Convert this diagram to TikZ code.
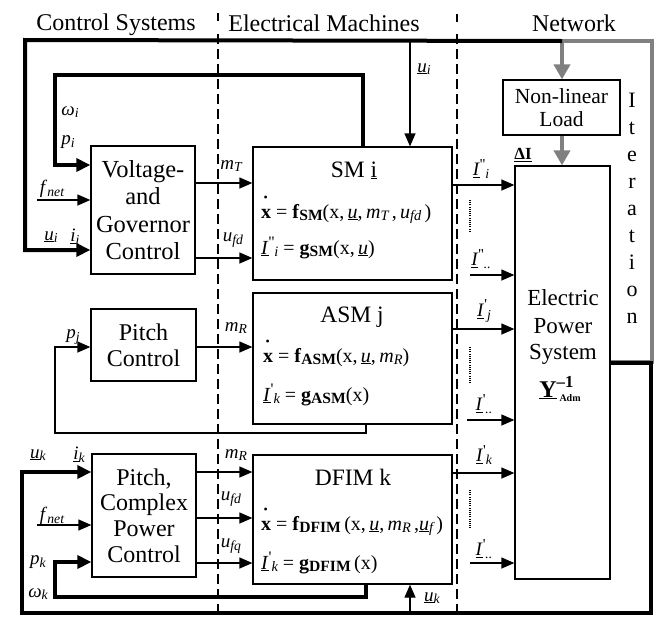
\documentclass[tikz,border=0pt]{standalone}
\usepackage{fontspec}
\setmainfont{Liberation Serif}
\usepackage{graphicx}
\usetikzlibrary{arrows.meta}
\newcommand\dotx{\rlap{\raisebox{0.85em}{\kern0.12em\scalebox{0.6}{\textbullet}}}\textbf{x}}
\newcommand\sbit[1]{\raisebox{-0.3ex}{\scalebox{0.72}{\itshape #1}}}
\newcommand\sbbf[1]{\raisebox{-0.3ex}{\scalebox{0.78}{\bfseries #1}}}
\newcommand\spr[1]{\raisebox{0.75ex}{\scalebox{0.8}{#1}}}
\begin{document}
\begin{tikzpicture}[x=1pt,y=-1pt,
 blk/.style={draw, line width=1.3pt, inner sep=0pt, align=center},
 arr/.style={line width=1.3pt, -{Triangle[length=13pt,width=11pt]}},
 thkarr/.style={line width=4pt, -{Triangle[length=14pt,width=13pt]}},
 gry/.style={line width=4.5pt, draw=black!50, -{Triangle[length=15pt,width=16pt,fill=black!50]}},
 lab/.style={font=\fontsize{19}{22}\selectfont, inner sep=0pt},
 eq/.style={font=\fontsize{20}{24}\selectfont, inner sep=0pt, anchor=base west},
 ttl/.style={font=\fontsize{23.5}{26}\selectfont, inner sep=0pt, anchor=base},
 hdr/.style={font=\fontsize{24}{26}\selectfont, inner sep=0pt, anchor=base},
 sep/.style={line width=2pt, dash pattern=on 10pt off 5pt},
 dotl/.style={line width=1.4pt, dash pattern=on 1pt off 1.2pt},
]
\useasboundingbox[fill=white] (0,0) rectangle (655,616);

% headers
\node[hdr] (h1) at (116,30) {Control Systems};
\node[hdr] (h2) at (324,31) {Electrical Machines};
\node[hdr] (h3) at (574,31) {Network};

% separators
\draw[line width=2pt] (218,13) -- (218,21);
\draw[line width=2pt] (457,14) -- (457,22);
\draw[sep] (218,34) -- (218,616);
\draw[sep] (457,34) -- (457,616);

% control boxes
\node[blk, minimum width=104pt, minimum height=128pt, font=\fontsize{24.5}{27.5}\selectfont] (V) at (143,210) {Voltage-\\and\\Governor\\Control};
\node[blk, minimum width=105pt, minimum height=72pt, font=\fontsize{24}{26}\selectfont] (P) at (143.5,345) {Pitch\\Control};
\node[blk, minimum width=104pt, minimum height=123pt, font=\fontsize{24}{25.7}\selectfont] (PC) at (144,515.5) {Pitch,\\Complex\\Power\\Control};

% machine boxes
\node[blk, minimum width=199pt, minimum height=133pt] (SM) at (352.5,213.5) {};
\node[blk, minimum width=199pt, minimum height=131pt] (ASM) at (352.5,358.5) {};
\node[blk, minimum width=199pt, minimum height=129pt] (DFIM) at (352.5,519.5) {};

\node[ttl] (tSM) at (354,177) {SM \underline{i}};
\node[eq] (eSM1) at (261,218) {\dotx{} = \textbf{f}\sbbf{SM}(x,\,\underline{\textit{u}},\,\textit{m}\sbit{T}\,,\,\textit{u}\sbit{fd}\,)};
\node[eq] (eSM2) at (261,254) {\underline{\textit{I}}\spr{\textquotesingle\textquotesingle}\sbit{i} = \textbf{g}\sbbf{SM}(x,\,\underline{\textit{u}})};

\node[ttl] (tASM) at (352,322) {ASM j};
\node[eq] (eASM1) at (263,362) {\dotx{} = \textbf{f}\sbbf{ASM}(x,\,\underline{\textit{u}},\,\textit{m}\sbit{R})};
\node[eq] (eASM2) at (263,401) {\underline{\textit{I}}\spr{\textquotesingle}\sbit{k} = \textbf{g}\sbbf{ASM}(x)};

\node[ttl] (tDFIM) at (353,485) {DFIM k};
\node[eq] (eDF1) at (261,530) {\dotx{} = \textbf{f}\sbbf{DFIM}\,(x,\,\underline{\textit{u}},\,\textit{m}\sbit{R}\,,\underline{\textit{u}}\sbit{f}\,)};
\node[eq] (eDF2) at (261,569) {\underline{\textit{I}}\spr{\textquotesingle}\sbit{k} = \textbf{g}\sbbf{DFIM}\,(x)};

% network
\node[blk, minimum width=95pt, minimum height=413pt] (EPS) at (562.5,372.5) {};
\node[blk, minimum width=117pt, minimum height=55pt, font=\fontsize{21.5}{23}\selectfont] (Load) at (561.5,107.5) {Non-linear\\Load};
\node[ttl, font=\fontsize{23}{26}\selectfont] (e1) at (563,305) {Electric};
\node[ttl, font=\fontsize{23}{26}\selectfont] (e2) at (563,333) {Power};
\node[ttl, font=\fontsize{23}{26}\selectfont] (e3) at (563,359) {System};
\node[ttl, font=\fontsize{24}{26}\selectfont] (e4) at (560,397) {\underline{\textbf{Y}}\raisebox{0.9ex}{\scalebox{0.7}{\bfseries --1}}\kern-14pt\raisebox{-4pt}{\fontsize{10}{10}\selectfont\bfseries Adm}};
\node[lab, font=\bfseries\fontsize{17}{20}\selectfont] (dI) at (523,155) {\underline{ΔI}};
\node[align=center, inner sep=0pt, font=\fontsize{22}{27}\selectfont] (it) at (632,208) {I\\t\\e\\r\\a\\t\\i\\o\\n};

% coordinates
\coordinate (itc) at (562,41);
\coordinate (tapT) at (410,40);
\coordinate (tapB) at (410,613);
\coordinate (fn1) at (37,200);
\coordinate (fn2) at (37,525);
\coordinate (d1) at (470,275);
\coordinate (d2) at (467,420);
\coordinate (d3) at (470,563);

% iteration loop (gray)
\draw[gry] (EPS.east |- 0,362) -- (652,362) -- (652,41) -- (itc) -- (Load.north -| itc);
\draw[gry] (Load.south -| itc) -- (EPS.north -| itc);

% thick loops
\draw[thkarr] (itc) -- (25,40) -- (25,250) -- (V.west |- 0,250);
\draw[thkarr] (SM.north -| 363,0) -- (363,75) -- (55,75) -- (55,165) -- (V.west |- 0,165);
\draw[thkarr] (EPS.east |- 0,363) -- (651,363) -- (651,613) -- (22,613) -- (22,472) -- (PC.west |- 0,472);
\draw[thkarr] (DFIM.south -| 366,0) -- (366,597) -- (55,597) -- (55,562) -- (PC.west |- 0,562);

% thin connectors
\draw[arr] (tapT) -- (SM.north -| tapT);
\draw[arr] (tapB) -- (DFIM.south -| tapB);
\draw[arr] (fn1) -- (V.west |- fn1);
\draw[arr] (fn2) -- (PC.west |- fn2);
\draw[arr] (V.east |- 0,183) -- (SM.west |- 0,183);
\draw[arr] (V.east |- 0,258) -- (SM.west |- 0,258);
\draw[arr] (ASM.south -| 366,0) -- (366,433) -- (55,433) -- (55,347) -- (P.west |- 0,347);
\draw[arr] (P.east |- 0,347) -- (ASM.west |- 0,347);
\draw[arr] (PC.east |- 0,472) -- (DFIM.west |- 0,472);
\draw[arr] (PC.east |- 0,518) -- (DFIM.west |- 0,518);
\draw[arr] (PC.east |- 0,563) -- (DFIM.west |- 0,563);

\draw[arr] (SM.east |- 0,185) -- (EPS.west |- 0,185);
\draw[arr] (d1) -- (EPS.west |- d1);
\draw[arr] (ASM.east |- 0,329) -- (EPS.west |- 0,329);
\draw[arr] (d2) -- (EPS.west |- d2);
\draw[arr] (DFIM.east |- 0,473) -- (EPS.west |- 0,473);
\draw[arr] (d3) -- (EPS.west |- d3);

\draw[dotl] (470,200) -- (470,233);
\draw[dotl] (470,347) -- (470,383);
\draw[dotl] (470,490) -- (470,528);

% labels
\node[lab] (lw1) at (70,112) {\textit{ω}\sbit{i}};
\node[lab] (lp1) at (68,142) {\textit{p}\sbit{i}};
\node[lab] (lf1) at (52,189) {\textit{f}\sbit{net}};
\node[lab] (lu1) at (51,237) {\underline{\textit{u}}\sbit{i}};
\node[lab] (li1) at (75,237) {\underline{\textit{i}}\sbit{i}};
\node[lab] (lmT) at (231,166) {\textit{m}\sbit{T}};
\node[lab] (lufd1) at (233,240) {\textit{u}\sbit{fd}};
\node[lab] (lui) at (424,69) {\underline{\textit{u}}\sbit{i}};
\node[lab] (lI1) at (481,169) {\underline{\textit{I}}\spr{\textquotesingle\textquotesingle}\sbit{i}};
\node[lab] (lI2) at (481,259) {\underline{\textit{I}}\spr{\textquotesingle\textquotesingle}\sbit{..}};
\node[lab] (lpj) at (73,337) {\textit{p}\sbit{j}};
\node[lab] (lmR1) at (236,328) {\textit{m}\sbit{R}};
\node[lab] (lIj) at (484,311) {\underline{\textit{I}}\spr{\textquotesingle}\sbit{j}};
\node[lab] (lI3) at (484,404) {\underline{\textit{I}}\spr{\textquotesingle}\sbit{..}};
\node[lab] (luk) at (38,455) {\underline{\textit{u}}\sbit{k}};
\node[lab] (lik) at (79,455) {\underline{\textit{i}}\sbit{k}};
\node[lab] (lf2) at (52,516) {\textit{f}\sbit{net}};
\node[lab] (lpk) at (38,562) {\textit{p}\sbit{k}};
\node[lab] (lwk) at (38,594) {\textit{ω}\sbit{k}};
\node[lab] (lmR2) at (236,455) {\textit{m}\sbit{R}};
\node[lab] (lufd2) at (231,499) {\textit{u}\sbit{fd}};
\node[lab] (lufq) at (231,546) {\textit{u}\sbit{fq}};
\node[lab] (lIk) at (484,455) {\underline{\textit{I}}\spr{\textquotesingle}\sbit{k}};
\node[lab] (lI4) at (484,549) {\underline{\textit{I}}\spr{\textquotesingle}\sbit{..}};
\node[lab] (lukb) at (432,598) {\underline{\textit{u}}\sbit{k}};
\end{tikzpicture}
\end{document}
